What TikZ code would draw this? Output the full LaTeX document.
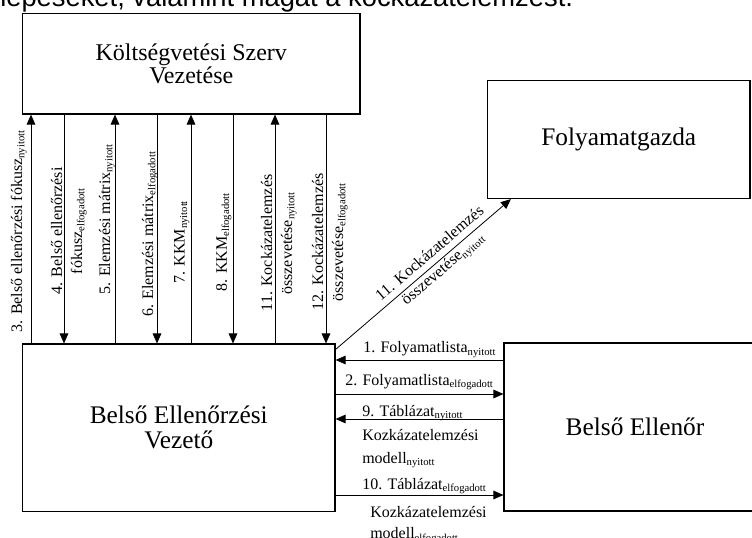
\documentclass[tikz,border=0pt]{standalone}
\usepackage{fontspec}
\setmainfont{Liberation Serif}
\newfontfamily\headfont{Liberation Sans}
\usetikzlibrary{arrows.meta,calc}

\begin{document}
\begin{tikzpicture}[
  x=0.75pt, y=-0.75pt,
  box/.style={draw, line width=0.9pt, inner sep=0pt, align=center, font=\fontsize{19}{18.75}\selectfont},
  lbl/.style={inner sep=0pt, font=\fontsize{12}{15}\selectfont},
  vlbl/.style={lbl, rotate=90, align=center},
  flow/.style={-{Triangle[length=7.5pt,width=6.5pt]}, line width=0.6pt}
]
  \useasboundingbox (0,0) rectangle (752,538);
  \clip (0,0) rectangle (752,538);

  % cut off line of the running text above
  \node[anchor=base west, inner sep=0pt, font=\headfont\fontsize{20.5}{24}\selectfont] (head) at (0,7) {lépéseket, valamint magát a kockázatelemzést.};

  % boxes
  \node[box, minimum width=253.1pt, minimum height=75.4pt, font=\fontsize{18}{17.8}\selectfont] (ksz) at (191.25,63.75) {Költségvetési Szerv\\Vezetése};
  \node[box, minimum width=234.4pt, minimum height=125.6pt] (bev) at (178.75,427.75) {Belső Ellenőrzési\\Vezető};
  \node[box, minimum width=196.9pt, minimum height=88.5pt] (fg) at (618.75,139.5) {Folyamatgazda};
  \node[box, minimum width=196.5pt, minimum height=126pt] (be) at (635,427) {Belső Ellenőr};

  % up and down between the two left boxes
  \foreach \xx/\nm in {31/a3, 64/a4, 115/a5, 157/a6, 191/a7, 233/a8, 275/a11, 326/a12}
    \coordinate (\nm) at (\xx,0);
  \foreach \nm in {a3, a5, a7, a11}
    \draw[flow] (bev.north -| \nm) -- (ksz.south -| \nm);
  \foreach \nm in {a4, a6, a8, a12}
    \draw[flow] (ksz.south -| \nm) -- (bev.north -| \nm);

  \node[vlbl] (l3) at (18.8,231) {3. Belső ellenőrzési fókusz\textsubscript{nyitott}};
  \node[vlbl] (l4) at (68.8,231) {4. Belső ellenőrzési\\fókusz\textsubscript{elfogadott}};
  \node[vlbl] (l5) at (106.8,219) {5. Elemzési mátrix\textsubscript{nyitott}};
  \node[vlbl] (l6) at (149.8,234) {6. Elemzési mátrix\textsubscript{elfogadott}};
  \node[vlbl] (l7) at (181.8,242) {7. KKM\textsubscript{nyitott}};
  \node[vlbl] (l8) at (223.8,242) {8. KKM\textsubscript{elfogadott}};
  \node[vlbl] (l11) at (278.8,243) {11. Kockázatelemzés\\összevetése\textsubscript{nyitott}};
  \node[vlbl] (l12) at (329.8,242) {12. Kockázatelemzés\\összevetése\textsubscript{elfogadott}};

  % to the process owner
  \draw[flow] ($(bev.north east)+(0,6)$) -- node[lbl, sloped, align=center, pos=0.58] (d11) {11. Kockázatelemzés\\összevetése\textsubscript{nyitott}} ($(fg.south west)+(24,0)$);

  % between the two lower boxes
  \foreach \yy/\nm in {360/h1, 394/h2, 419/h9, 495/h10}
    \coordinate (\nm) at (0,\yy);
  \draw[flow] (be.west |- h1) -- (bev.east |- h1);
  \draw[flow] (bev.east |- h2) -- (be.west |- h2);
  \draw[flow] (be.west |- h9) -- (bev.east |- h9);
  \draw[flow] (bev.east |- h10) -- (be.west |- h10);

  \node[lbl, anchor=base west] (t1) at (363,352.7) {1. Folyamatlista\textsubscript{nyitott}};
  \node[lbl, anchor=base west] (t2) at (345,385) {2. Folyamatlista\textsubscript{elfogadott}};
  \node[lbl, anchor=base west] (t9) at (362,416) {9. Táblázat\textsubscript{nyitott}};
  \node[lbl, anchor=north west, align=left, font=\fontsize{12}{17}\selectfont] (t9b) at (362,429) {Kozkázatelemzési\\modell\textsubscript{nyitott}};
  \node[lbl, anchor=base west] (t10) at (362,489) {10. Táblázat\textsubscript{elfogadott}};
  \node[lbl, anchor=north west, align=left, font=\fontsize{12}{16}\selectfont] (t10b) at (370,506) {Kozkázatelemzési\\modell\textsubscript{elfogadott}};
\end{tikzpicture}
\end{document}
